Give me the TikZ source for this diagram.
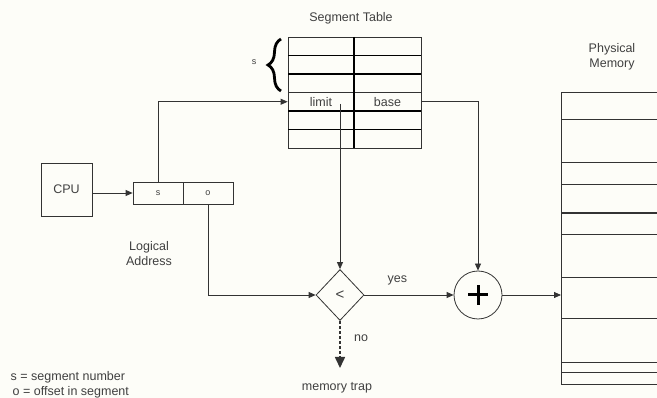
\documentclass[tikz,border=0pt]{standalone}
\usepackage{fontspec}
\setmainfont{Liberation Sans}
\usetikzlibrary{arrows.meta,shapes.geometric,decorations.pathreplacing}

\definecolor{paper}{RGB}{253,253,248}
\tikzset{
	lbl/.style={font=\fontsize{12.5}{15.5}\selectfont,text=black!75},
	tiny/.style={font=\fontsize{9}{10}\selectfont},
	box/.style={draw,minimum width=51pt,minimum height=53pt,inner sep=0pt},
	addr/.style={draw,minimum width=50pt,minimum height=22pt,inner sep=0pt,tiny},
	cell/.style={draw,minimum height=18.5pt,inner sep=0pt},
	arr/.style={-{Triangle[width=6pt,length=7pt]}},
}

\begin{document}
\begin{tikzpicture}[x=1pt,y=-1pt,line width=0.8pt,draw=black!80,lbl]
	\fill[paper] (0,0) rectangle (657,398);
	\useasboundingbox (0,0) rectangle (657,398);
	% cpu and logical address
	\node[box] (cpu) at (66.5,189.5) {CPU};
	\node[addr] (s) at (158,193) {s};
	\node[addr] (o) at (208,193) {o};
	\node[align=center] (logical) at (149,253.5) {Logical\\Address};
	\draw[arr] (cpu.east |- s.west) -- (s.west);
	% segment table
	\node (title) at (351,18) {Segment Table};
	\foreach \r in {0,1,2,4,5} {
		\node[cell,minimum width=66pt] at (321,46.25+18.5*\r) {};
		\node[cell,minimum width=67pt] at (387.5,46.25+18.5*\r) {};
	}
	\node[cell,minimum width=66pt] (limit) at (321,101.75) {limit};
	\node[cell,minimum width=67pt] (base) at (387.5,101.75) {base};
	\foreach \y in {55.5,74,111,129.5}
		\draw[line width=1.3pt,black] (288,\y) -- (421,\y);
	\draw[line width=1.3pt,black] (354,37) -- (354,148);
	\draw[decorate,decoration={brace,amplitude=13pt},line width=2.8pt,black] (281,91) -- (281,39);
	\node[tiny] (sidx) at (254,62) {s};
	% compare and add
	\node[draw,diamond,minimum width=48pt,minimum height=51pt,inner sep=0pt,font=\fontsize{15}{15}\selectfont] (cmp) at (340,295) {<};
	\node[draw,circle,minimum size=48pt,inner sep=0pt] (plus) at (478,295) {};
	\draw[line width=3pt,black] ([xshift=-10pt]plus.center) -- ([xshift=10pt]plus.center);
	\draw[line width=3pt,black] ([yshift=-10pt]plus.center) -- ([yshift=10pt]plus.center);
	\coordinate (tap) at (340,104);
	\draw[arr] (s.north) |- (limit.west);
	\draw[arr] (tap) -- (cmp.north);
	\draw[arr] (base.east) -| (plus.north);
	\draw[arr] (o.south) |- (cmp.west);
	\draw[arr] (cmp.east) -- node[above=6pt,pos=0.37]{yes} (plus.west);
	% memory trap
	\coordinate (trapend) at (340,368);
	\draw[line width=1.6pt,dash pattern=on 3pt off 2pt,-{Triangle[width=10pt,length=11pt]}] (cmp.south) -- node[right=10pt,pos=0.36]{no} (trapend);
	\node (trap) at (337,388) {memory trap};
	% physical memory
	\node[align=center] (phys) at (612,57) {Physical\\Memory};
	\coordinate (memin) at (561,295);
	\draw[arr] (plus.east) -- (memin);
	\draw (657,92) -- (561,92) -- (561,384) -- (657,384);
	\foreach \y in {119,162,184,234,277,318,362,372}
		\draw (561,\y) -- (657,\y);
	\draw[line width=1.6pt] (561,213) -- (657,213);
	% legend
	\node[anchor=west] (leg1) at (7,377) {s = segment number};
	\node[anchor=west] (leg2) at (9,392) {o = offset in segment};
\end{tikzpicture}
\end{document}
